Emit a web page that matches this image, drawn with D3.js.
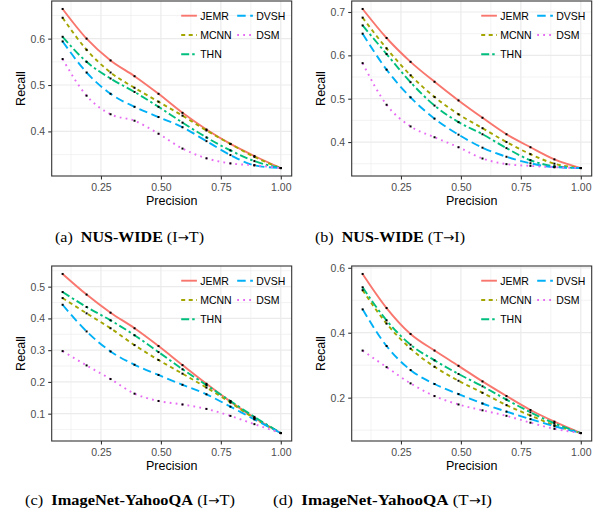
<!DOCTYPE html>
<html>
<head>
<meta charset="utf-8">
<script src="https://cdn.jsdelivr.net/npm/d3@7"></script>
<style>
  body { margin: 0; background: #fff; }
  svg { display: block; font-family: "Liberation Sans", Arial, sans-serif; }
</style>
</head>
<body>
<svg id="fig" width="605" height="513"></svg>
<script>
// methods and the precision levels shared by all four panels
const methods = ["JEMR", "MCNN", "THN", "DVSH", "DSM"];
const precision = [0.09, 0.19, 0.29, 0.39, 0.49, 0.59, 0.69, 0.79, 0.89, 1.0];

// recall per method
const nusIT = {
  JEMR: [0.664, 0.600, 0.553, 0.519, 0.481, 0.440, 0.404, 0.373, 0.347, 0.321],
  MCNN: [0.645, 0.576, 0.527, 0.494, 0.464, 0.434, 0.402, 0.373, 0.345, 0.321],
  THN:  [0.604, 0.550, 0.514, 0.485, 0.453, 0.419, 0.387, 0.359, 0.336, 0.321],
  DVSH: [0.594, 0.527, 0.481, 0.453, 0.431, 0.409, 0.379, 0.349, 0.327, 0.321],
  DSM:  [0.556, 0.477, 0.437, 0.423, 0.395, 0.363, 0.342, 0.331, 0.327, 0.321]
};
const nusTI = {
  JEMR: [0.707, 0.640, 0.585, 0.539, 0.496, 0.456, 0.418, 0.388, 0.360, 0.340],
  MCNN: [0.687, 0.616, 0.554, 0.504, 0.464, 0.432, 0.400, 0.372, 0.350, 0.340],
  THN:  [0.669, 0.603, 0.538, 0.484, 0.446, 0.418, 0.386, 0.358, 0.344, 0.340],
  DVSH: [0.650, 0.567, 0.503, 0.454, 0.417, 0.387, 0.366, 0.351, 0.342, 0.340],
  DSM:  [0.582, 0.486, 0.436, 0.411, 0.388, 0.362, 0.349, 0.345, 0.342, 0.340]
};
const imgIT = {
  JEMR: [0.540, 0.475, 0.418, 0.369, 0.313, 0.253, 0.194, 0.138, 0.087, 0.039],
  MCNN: [0.464, 0.416, 0.369, 0.316, 0.269, 0.226, 0.182, 0.135, 0.085, 0.039],
  THN:  [0.483, 0.436, 0.394, 0.347, 0.294, 0.240, 0.190, 0.140, 0.090, 0.039],
  DVSH: [0.443, 0.359, 0.296, 0.254, 0.222, 0.191, 0.161, 0.122, 0.082, 0.039],
  DSM:  [0.297, 0.252, 0.209, 0.163, 0.140, 0.129, 0.115, 0.093, 0.067, 0.039]
};
const imgTI = {
  JEMR: [0.581, 0.476, 0.396, 0.345, 0.298, 0.250, 0.205, 0.162, 0.126, 0.091],
  MCNN: [0.531, 0.428, 0.351, 0.295, 0.252, 0.215, 0.177, 0.145, 0.115, 0.091],
  THN:  [0.540, 0.438, 0.363, 0.315, 0.273, 0.235, 0.194, 0.155, 0.121, 0.091],
  DVSH: [0.472, 0.359, 0.285, 0.242, 0.211, 0.182, 0.157, 0.134, 0.112, 0.091],
  DSM:  [0.345, 0.294, 0.244, 0.205, 0.179, 0.161, 0.144, 0.123, 0.104, 0.091]
};

// axis breaks
const xTicks = [0.25, 0.5, 0.75, 1.0];
const yTicksNusIT = [0.4, 0.5, 0.6];
const yTicksNusTI = [0.4, 0.5, 0.6, 0.7];
const yTicksImgIT = [0.1, 0.2, 0.3, 0.4, 0.5];
const yTicksImgTI = [0.2, 0.4, 0.6];

const colors = ["#F8766D", "#A3A500", "#00BF7D", "#00B0F6", "#E76BF3"];
const dashes = [null, "4,3.5", "8,3,2.5,3", "8.5,4.5", "1.8,4.2"];

const panels = [
  { data: nusIT, yTicks: yTicksNusIT, left: 51.7, top: 1,   cap: ["(a)", "NUS-WIDE", "(I", "T)"], capX: 55,  capY: 241.5, capW: 149 },
  { data: nusTI, yTicks: yTicksNusTI, left: 351.7, top: 1,  cap: ["(b)", "NUS-WIDE", "(T", "I)"], capX: 315, capY: 241.5, capW: 150 },
  { data: imgIT, yTicks: yTicksImgIT, left: 51.7, top: 266, cap: ["(c)", "ImageNet-YahooQA", "(I", "T)"], capX: 25,  capY: 505, capW: 210 },
  { data: imgTI, yTicks: yTicksImgTI, left: 351.7, top: 266, cap: ["(d)", "ImageNet-YahooQA", "(T", "I)"], capX: 273, capY: 505, capW: 219 }
];

const W = 240, H = 175;
const svg = d3.select("#fig");

// ggplot-style 5% expansion
function expand(ext) {
  const pad = (ext[1] - ext[0]) * 0.05;
  return [ext[0] - pad, ext[1] + pad];
}
function minors(ticks, dom) {
  const step = ticks[1] - ticks[0];
  const b = [ticks[0] - step, ...ticks, ticks[ticks.length - 1] + step];
  const out = [];
  for (let i = 0; i < b.length - 1; i++) {
    const m = (b[i] + b[i + 1]) / 2;
    if (m > dom[0] && m < dom[1]) out.push(m);
  }
  return out;
}

panels.forEach(p => {
  const all = methods.flatMap(m => p.data[m]);
  const xDom = expand(d3.extent(precision));
  const yDom = expand(d3.extent(all));
  const x = d3.scaleLinear().domain(xDom).range([0, W]);
  const y = d3.scaleLinear().domain(yDom).range([H, 0]);

  const g = svg.append("g").attr("transform", `translate(${p.left},${p.top})`);

  // grid
  const grid = g.append("g").attr("stroke", "#EBEBEB").attr("fill", "none");
  minors(xTicks, xDom).forEach(v => grid.append("line").attr("x1", x(v)).attr("x2", x(v)).attr("y1", 0).attr("y2", H).attr("stroke-width", 0.6));
  minors(p.yTicks, yDom).forEach(v => grid.append("line").attr("y1", y(v)).attr("y2", y(v)).attr("x1", 0).attr("x2", W).attr("stroke-width", 0.6));
  xTicks.forEach(v => grid.append("line").attr("x1", x(v)).attr("x2", x(v)).attr("y1", 0).attr("y2", H).attr("stroke-width", 1.2));
  p.yTicks.forEach(v => grid.append("line").attr("y1", y(v)).attr("y2", y(v)).attr("x1", 0).attr("x2", W).attr("stroke-width", 1.2));

  // series
  const line = d3.line().x((d, i) => x(precision[i])).y(d => y(d)).curve(d3.curveMonotoneX);
  methods.forEach((m, k) => {
    g.append("path")
      .attr("d", line(p.data[m]))
      .attr("fill", "none")
      .attr("stroke", colors[k])
      .attr("stroke-width", 1.9)
      .attr("stroke-dasharray", dashes[k]);
  });
  methods.forEach(m => {
    g.append("g").selectAll("rect").data(p.data[m]).enter().append("rect")
      .attr("x", (d, i) => x(precision[i]) - 1)
      .attr("y", d => y(d) - 1)
      .attr("width", 2).attr("height", 2)
      .attr("fill", "#000");
  });

  // border
  g.append("rect").attr("width", W).attr("height", H)
    .attr("fill", "none").attr("stroke", "#333333").attr("stroke-width", 1.1);

  // axes
  const xAxis = g.append("g").attr("transform", `translate(0,${H})`)
    .call(d3.axisBottom(x).tickValues(xTicks).tickFormat(d3.format(".2f")).tickSize(3.5).tickPadding(4));
  const yAxis = g.append("g")
    .call(d3.axisLeft(y).tickValues(p.yTicks).tickFormat(d3.format(".1f")).tickSize(3.5).tickPadding(3));
  [xAxis, yAxis].forEach(a => {
    a.select(".domain").remove();
    a.selectAll(".tick line").attr("stroke", "#333333").attr("stroke-width", 1.1);
    a.selectAll(".tick text").attr("fill", "#4D4D4D").style("font-size", "10.5px")
      .style("font-family", "Liberation Sans, Arial, sans-serif");
  });

  g.append("text").attr("x", W / 2).attr("y", H + 29)
    .attr("text-anchor", "middle").style("font-size", "12.5px").text("Precision");
  g.append("text").attr("transform", `translate(${-26.7},${H / 2}) rotate(-90)`)
    .attr("text-anchor", "middle").style("font-size", "12.5px").text("Recall");

  // legend, two columns
  const cols = [[0, 1, 2], [3, 4]];
  cols.forEach((col, c) => {
    col.forEach((k, r) => {
      const lx = 129.5 + c * 56, ly = 14.7 + r * 19.3;
      g.append("line").attr("x1", lx).attr("x2", lx + 15.7).attr("y1", ly).attr("y2", ly)
        .attr("stroke", colors[k]).attr("stroke-width", 1.9).attr("stroke-dasharray", dashes[k]);
      g.append("text").attr("x", lx + 19).attr("y", ly + 3.8)
        .style("font-size", "10.5px").attr("fill", "#000").text(methods[k]);
    });
  });

  // caption
  const cap = svg.append("text").attr("x", p.capX).attr("y", p.capY)
    .attr("textLength", p.capW).attr("lengthAdjust", "spacingAndGlyphs")
    .style("font-family", "Liberation Serif, Times New Roman, serif").style("font-size", "15.5px");
  cap.append("tspan").text(p.cap[0] + "\u00a0\u00a0");
  cap.append("tspan").attr("font-weight", "bold").text(p.cap[1]);
  cap.append("tspan").text("\u00a0" + p.cap[2]);
  cap.append("tspan").style("font-family", "DejaVu Sans, sans-serif").style("font-size", "13px").text("\u2192");
  cap.append("tspan").text(p.cap[3]);
});
</script>
</body>
</html>
